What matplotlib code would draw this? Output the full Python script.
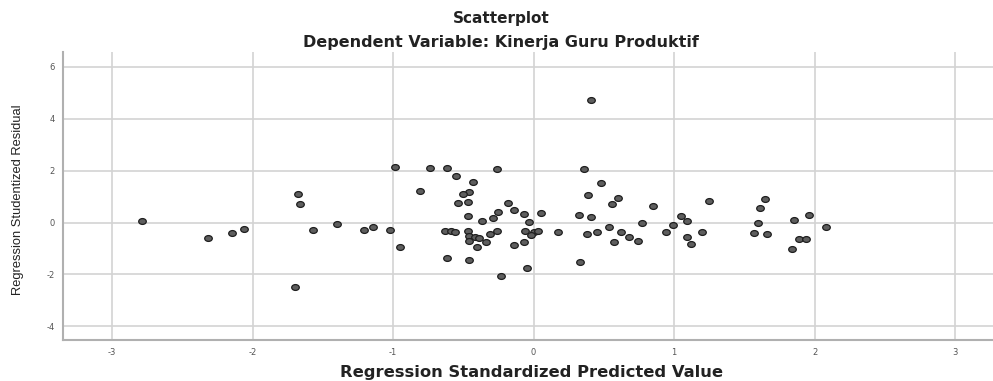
import matplotlib
matplotlib.use('Agg')
import matplotlib.pyplot as plt
from matplotlib.path import Path
from matplotlib.transforms import Affine2D

# Regression standardized predicted value (x) and studentized residual (y)
pred_x = [-2.79, -2.32, -2.15, -2.06, -1.68, -1.66, -1.57, -1.40, -1.21, -1.14,
          -1.70, -1.02, -0.95, -0.81,
          -0.99, -0.74, -0.62, -0.26, -0.55, -0.43, -0.46, -0.50, -0.47, -0.54,
          -0.18, -0.14, -0.07, 0.05, -0.25, -0.47, -0.37, -0.29, -0.03,
          -0.63, -0.59, -0.56, -0.47, -0.46, -0.42, -0.39, -0.46, -0.34, -0.40,
          -0.31, -0.26, -0.06, 0.00, 0.03, -0.02, -0.07, -0.14,
          -0.62, -0.46, -0.05, -0.23,
          0.36, 0.48, 0.39, 0.60, 0.56, 0.85, 1.25, 0.32, 0.41, 0.77,
          1.05, 1.09, 0.99, 0.17, 0.38, 0.45, 0.54, 0.62, 0.68, 0.74,
          0.57, 0.94, 1.09, 1.12, 1.20, 0.33, 0.41,
          1.65, 1.61, 1.60, 1.85, 1.96, 2.08, 1.57, 1.66, 1.89, 1.94, 1.84]
resid_y = [0.07, -0.59, -0.39, -0.26, 1.08, 0.72, -0.28, -0.07, -0.29, -0.18,
           -2.50, -0.30, -0.95, 1.21,
           2.12, 2.10, 2.10, 2.07, 1.79, 1.55, 1.18, 1.08, 0.78, 0.74,
           0.75, 0.47, 0.32, 0.38, 0.42, 0.25, 0.07, 0.16, 0.03,
           -0.32, -0.32, -0.35, -0.33, -0.52, -0.57, -0.61, -0.70, -0.75, -0.94,
           -0.45, -0.33, -0.33, -0.35, -0.33, -0.48, -0.75, -0.87,
           -1.38, -1.44, -1.74, -2.05,
           2.06, 1.51, 1.07, 0.93, 0.71, 0.65, 0.83, 0.29, 0.21, -0.01,
           0.25, 0.07, -0.11, -0.35, -0.45, -0.36, -0.16, -0.36, -0.54, -0.71,
           -0.76, -0.36, -0.54, -0.84, -0.38, -1.51, 4.73,
           0.90, 0.57, -0.01, 0.08, 0.28, -0.16, -0.39, -0.45, -0.65, -0.63, -1.00]

x_ticks = [-3, -2, -1, 0, 1, 2, 3]
y_ticks = [-4, -2, 0, 2, 4, 6]

plt.rcParams['font.family'] = ['DejaVu Sans']

fig = plt.figure(figsize=(9.93, 3.81), dpi=100)
ax = fig.add_axes([63/993, 1-340/381, 1-63/993, (340-52)/381])

# slightly flattened circle like the SPSS marker
oval = Path.unit_circle().transformed(Affine2D().scale(1.3, 1.0))
ax.scatter(pred_x, resid_y, s=30, marker=oval, c='#5e5e5e', edgecolors='#1e1e1e',
           linewidths=0.9, zorder=3)

ax.set_xlim(-3.35, 3.27)
ax.set_ylim(-4.52, 6.56)
ax.set_xticks(x_ticks)
ax.set_yticks(y_ticks)
ax.set_xticklabels([str(t) for t in x_ticks], fontsize=6, color='#555555')
ax.set_yticklabels([str(t) for t in y_ticks], fontsize=6, color='#555555')
ax.tick_params(length=0, pad=6)
ax.grid(True, color='#d3d3d3', linewidth=1.2, zorder=0)
for s in ['top', 'right']:
    ax.spines[s].set_visible(False)
for s in ['left', 'bottom']:
    ax.spines[s].set_color('#b0b0b0')
    ax.spines[s].set_linewidth(1.5)

fig.text(501/993, 1-18/381, 'Scatterplot', ha='center', va='center',
         fontsize=11, fontweight='bold', color='#222222')
fig.text(501/993, 1-42/381, 'Dependent Variable: Kinerja Guru Produktif',
         ha='center', va='center', fontsize=11.5, fontweight='bold', color='#222222')
fig.text(531/993, 1-372/381, 'Regression Standardized Predicted Value',
         ha='center', va='center', fontsize=11.8, fontweight='bold', color='#222222')
fig.text(18/993, 1-200/381, 'Regression Studentized Residual', rotation=90,
         ha='center', va='center', fontsize=9.3, color='#222222',
         family=['Liberation Sans Narrow', 'Liberation Sans', 'DejaVu Sans'])

fig.savefig('out.png', dpi=100)
